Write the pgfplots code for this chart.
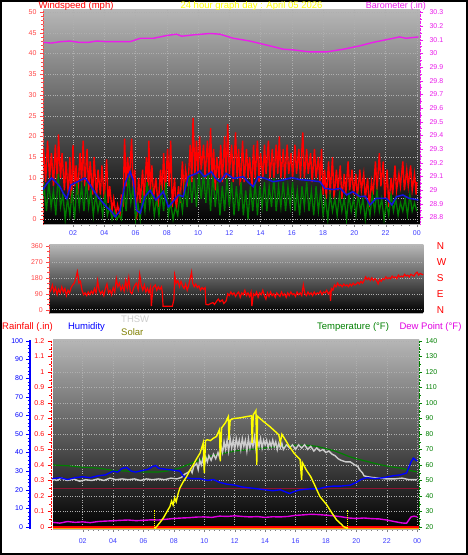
\documentclass[border=0pt]{standalone}
\usepackage{fontspec}
\setmainfont{Liberation Sans}
\usepackage{pgfplots}
\pgfplotsset{compat=1.18}
\definecolor{bgtop}{RGB}{182,182,182}
\definecolor{gridc}{RGB}{175,175,175}
\definecolor{windtick}{RGB}{255,70,70}
\definecolor{barmag}{RGB}{235,30,235}
\definecolor{xlab}{RGB}{60,60,255}
\definecolor{wblue}{RGB}{20,20,225}
\definecolor{wgreen}{RGB}{0,125,0}
\definecolor{thswc}{RGB}{205,205,205}
\definecolor{maroonl}{RGB}{140,20,50}
\definecolor{orangel}{RGB}{255,165,0}
\definecolor{olivec}{RGB}{128,128,0}
\definecolor{tgreen}{RGB}{0,128,0}
\definecolor{dewm}{RGB}{225,0,225}
\definecolor{ylw}{RGB}{255,255,0}
\pgfplotsset{
  every axis/.append style={scale only axis, anchor=south west, enlargelimits=false,
    tick label style={font=\fontsize{7}{8}\selectfont},
    /pgf/number format/assume math mode=true,
    tick align=outside, major tick length=3pt, minor tick length=1.8pt},
}
\begin{document}
\begin{tikzpicture}
\fill[white] (0pt,0pt) rectangle (468pt,555pt);
\draw[line width=2pt] (1pt,1pt) rectangle (467pt,554pt);
% ---------- Panel 1: wind speed ----------
\begin{axis}[at={(43pt,331pt)}, width=377pt, height=214pt,
  xmin=0.08, xmax=24.2, ymin=-1.1, ymax=50.5,
  axis background/.style={top color=bgtop, bottom color=black},
  axis x line*=bottom, axis y line*=left,
  x axis line style={gray!60,-}, y axis line style={windtick, densely dotted,-},
  xtick={2,4,...,24}, xticklabels={02,04,06,08,10,12,14,16,18,20,22,00},
  ytick={0,5,...,50}, minor x tick num=3, minor y tick num=4,
  grid=major, major grid style={dotted, gridc, line width=0.5pt},
  xticklabel style={text=xlab}, yticklabel style={text=windtick},
  x tick style={gray}, y tick style={windtick}]
\addplot[red, line width=1.4pt] coordinates {(0,12) (0.12,17) (0.25,9) (0.37,19) (0.5,10) (0.62,16) (0.75,8) (0.87,18) (1,9) (1.07,20.5) (1.2,10) (1.3,16) (1.45,7) (1.55,14) (1.7,6) (1.8,15) (1.9,4) (2,18) (2.1,8) (2.2,13) (2.3,6) (2.45,16) (2.55,9) (2.65,19) (2.75,8) (2.9,17) (3,7) (3.1,14) (3.25,6) (3.35,15) (3.5,5) (3.6,12) (3.75,6) (3.85,13) (4,5) (4.15,14.5) (4.25,4) (4.35,8) (4.5,2) (4.6,5) (4.75,1) (4.85,3.5) (5,1) (5.1,6) (5.2,3) (5.3,19.5) (5.4,8) (5.5,15) (5.6,9) (5.75,19.5) (5.85,6) (5.95,12) (6.07,0) (6.2,10) (6.3,4) (6.45,12) (6.55,5) (6.7,15) (6.8,8) (6.85,19) (6.95,7) (7.05,13) (7.15,5) (7.3,10) (7.45,3) (7.6,12) (7.7,7) (7.8,16) (7.9,6) (8.05,17) (8.15,8) (8.25,19) (8.35,3) (8.5,10) (8.6,2) (8.75,8) (8.85,4) (9,14) (9.1,6) (9.2,12) (9.35,8) (9.5,18) (9.6,9) (9.68,24.5) (9.8,11) (9.9,19) (10,11) (10.1,20) (10.2,12) (10.35,18) (10.45,10) (10.6,19) (10.7,11) (10.8,22) (10.9,10) (11,17) (11.1,7) (11.2,15) (11.35,10) (11.45,18) (11.55,9) (11.7,20) (11.8,10) (11.9,23) (12,11) (12.15,18) (12.25,9) (12.4,21) (12.5,10) (12.6,17) (12.7,8) (12.85,19) (12.95,9) (13.1,17) (13.2,10) (13.3,15) (13.45,8) (13.55,18) (13.65,10) (13.8,19) (13.9,9) (14,16) (14.15,10) (14.25,18) (14.35,11) (14.5,19) (14.6,10) (14.75,17) (14.85,10) (15,18) (15.1,11) (15.2,20) (15.3,10) (15.45,17) (15.55,10) (15.7,18) (15.8,11) (15.95,16) (16.05,10) (16.2,18) (16.3,11) (16.45,17) (16.55,10) (16.7,21) (16.8,10) (16.95,17) (17.05,11) (17.2,16) (17.3,9) (17.45,17) (17.55,10) (17.7,15) (17.8,9) (17.9,17) (18,6) (18.1,12) (18.2,5) (18.35,14) (18.45,6) (18.6,15) (18.7,5) (18.85,12) (18.95,7) (19.1,13) (19.2,5) (19.35,11) (19.45,6) (19.6,14) (19.7,7) (19.85,12) (19.95,6) (20.1,11) (20.2,5) (20.35,12) (20.45,7) (20.6,11) (20.7,5) (20.85,10) (20.95,3) (21.1,9) (21.2,6) (21.35,14) (21.45,7) (21.6,16) (21.7,8) (21.85,14) (21.95,5) (22.1,12) (22.2,3) (22.35,10) (22.45,6) (22.6,13) (22.7,7) (22.85,11) (22.95,8) (23.1,14) (23.2,7) (23.35,12) (23.45,8) (23.6,13) (23.7,7) (23.85,11) (23.95,6) (24,9)};
\addplot[wgreen, line width=1.3pt] coordinates {(0,4) (0.15,8) (0.3,2) (0.45,9) (0.6,3) (0.75,7) (0.9,1) (1.05,11) (1.2,3) (1.35,6) (1.5,0) (1.65,5) (1.8,1) (1.95,7) (2.1,0) (2.25,9) (2.4,3) (2.55,8) (2.7,2) (2.85,9) (3,3) (3.15,7) (3.3,1) (3.45,6) (3.6,2) (3.75,5) (3.9,1) (4.05,6) (4.2,1) (4.35,3) (4.5,0) (4.65,2) (4.8,0) (4.95,1) (5.1,0) (5.25,7) (5.4,2) (5.55,11) (5.7,4) (5.85,8) (6,0) (6.15,4) (6.3,0) (6.45,6) (6.6,2) (6.75,9) (6.9,3) (7.05,7) (7.2,1) (7.35,5) (7.5,1) (7.65,7) (7.8,2) (7.95,9) (8.1,1) (8.25,4) (8.4,0) (8.55,3) (8.7,1) (8.85,6) (9,2) (9.15,8) (9.3,3) (9.45,11) (9.6,4) (9.75,10) (9.9,3) (10.05,11) (10.2,5) (10.35,11) (10.5,4) (10.65,11) (10.8,2) (10.95,11) (11.1,3) (11.25,9) (11.4,1) (11.55,8) (11.7,2) (11.85,10) (12,3) (12.15,9) (12.3,1) (12.45,8) (12.6,2) (12.75,9) (12.9,1) (13.05,7) (13.2,0) (13.35,8) (13.5,2) (13.65,9) (13.8,1) (13.95,8) (14.1,3) (14.25,9) (14.4,2) (14.55,8) (14.7,3) (14.85,10) (15,2) (15.15,8) (15.3,3) (15.45,9) (15.6,2) (15.75,8) (15.9,3) (16.05,9) (16.2,2) (16.35,7) (16.5,1) (16.65,8) (16.8,3) (16.95,9) (17.1,2) (17.25,7) (17.4,1) (17.55,8) (17.7,2) (17.85,7) (18,1) (18.15,5) (18.3,0) (18.45,6) (18.6,2) (18.75,5) (18.9,1) (19.05,6) (19.2,2) (19.35,5) (19.5,0) (19.65,6) (19.8,2) (19.95,5) (20.1,1) (20.25,6) (20.4,2) (20.55,5) (20.7,0) (20.85,4) (21,1) (21.15,6) (21.3,2) (21.45,7) (21.6,2) (21.75,5) (21.9,0) (22.05,4) (22.2,1) (22.35,6) (22.5,2) (22.65,5) (22.8,1) (22.95,4) (23.1,2) (23.25,5) (23.4,1) (23.55,6) (23.7,2) (23.85,4) (24,2)};
\addplot[wblue, line width=1.5pt] coordinates {(0.05,7) (0.3,8.5) (0.64,10) (0.9,9) (1.15,8) (1.38,6.3) (1.6,5) (1.85,8.3) (2.24,9) (2.5,9.5) (2.77,10) (3.1,8.3) (3.5,5.9) (3.94,3.9) (4.15,3) (4.47,1.9) (4.7,0.6) (5,2) (5.33,8.7) (5.65,11.5) (5.85,9.5) (6.07,2.2) (6.3,1.5) (6.6,5.5) (6.93,7) (7.3,4.7) (7.78,6.7) (8.1,3) (8.4,4.3) (8.75,5.9) (9.05,5.5) (9.37,10.3) (9.9,11.1) (10.1,11.7) (10.4,10.3) (10.85,11.5) (11.1,10) (11.4,9.1) (11.8,11.1) (12.25,9.9) (12.9,10.3) (13.2,9) (13.53,7.9) (13.85,10.3) (14.3,9.9) (14.8,9.1) (15.45,9.5) (16,10.1) (16.5,9.6) (17.15,9.4) (17.8,9.1) (18.1,7.5) (18.65,7.2) (19.1,7.5) (19.5,5.9) (19.9,6.7) (20.35,5.5) (20.7,5.6) (21,3.5) (21.4,5.1) (22.05,5.1) (22.4,3.5) (22.7,5.5) (23.1,5.9) (23.5,5.1) (24.1,4.7)};
\end{axis}
\begin{axis}[at={(43pt,331pt)}, width=377pt, height=214pt,
  xmin=0.08, xmax=24.2, ymin=28.751, ymax=30.317,
  axis x line=none, axis y line*=right,
  y axis line style={barmag, densely dotted,-},
  ytick={28.8,28.9,29.0,29.1,29.2,29.3,29.4,29.5,29.6,29.7,29.8,29.9,30.0,30.1,30.2,30.3},
  yticklabels={28.8,28.9,29,29.1,29.2,29.3,29.4,29.5,29.6,29.7,29.8,29.9,30,30.1,30.2,30.3},
  minor y tick num=1, yticklabel style={text=barmag, xshift=3pt}, y tick style={barmag}]
\addplot[barmag, line width=1.4pt] coordinates {(0.1,30.08) (0.6,30.075) (1.2,30.085) (1.8,30.09) (2.4,30.08) (2.98,30.08) (3.5,30.09) (4.2,30.085) (5,30.085) (5.65,30.085) (6.3,30.11) (7.14,30.11) (7.99,30.13) (8.63,30.14) (8.95,30.125) (9.7,30.135) (10.76,30.145) (11.4,30.14) (12.25,30.11) (13.3,30.09) (14.4,30.06) (15.45,30.03) (16.1,30.025) (17.15,30.01) (18.2,30.01) (19.3,30.03) (20.35,30.055) (21.2,30.08) (22.05,30.1) (22.9,30.12) (23.3,30.11) (24.1,30.12)};
\end{axis}
% ---------- Panel 2: wind direction ----------
\begin{axis}[at={(49.3pt,242pt)}, width=374pt, height=68pt,
  xmin=0, xmax=24, ymin=-18.6, ymax=365.6,
  axis background/.style={top color=bgtop, bottom color=black},
  axis x line*=bottom, axis y line*=left,
  x axis line style={gray!60,-}, y axis line style={windtick, densely dotted,-},
  xtick=\empty, ytick={0,90,180,270,360}, minor y tick num=2,
  ymajorgrids, major grid style={dotted, gridc, line width=0.5pt},
  yticklabel style={text=windtick}, y tick style={windtick}]
\addplot[red, line width=1.2pt] coordinates {(0,95) (0.1,110) (0.2,140) (0.3,100) (0.4,125) (0.5,85) (0.6,115) (0.7,95) (0.8,130) (0.9,100) (1,120) (1.1,80) (1.2,110) (1.3,95) (1.4,125) (1.5,140) (1.6,150) (1.7,175) (1.8,215) (1.85,190) (1.9,150) (2,160) (2.1,110) (2.2,85) (2.3,95) (2.4,80) (2.5,100) (2.6,85) (2.7,105) (2.8,90) (2.9,120) (3,95) (3.1,165) (3.2,110) (3.3,90) (3.4,105) (3.5,80) (3.6,120) (3.7,145) (3.8,95) (3.9,110) (4,85) (4.1,125) (4.2,100) (4.3,175) (4.4,130) (4.5,150) (4.6,110) (4.7,135) (4.8,105) (4.9,165) (5,120) (5.1,180) (5.2,100) (5.3,90) (5.4,120) (5.5,140) (5.6,150) (5.7,115) (5.8,200) (5.9,140) (6,110) (6.1,140) (6.2,100) (6.3,120) (6.4,95) (6.5,130) (6.55,20) (6.65,125) (6.8,140) (6.9,110) (7,130) (7.1,115) (7.2,130) (7.25,100) (7.3,20) (7.9,20) (8,60) (8.05,195) (8.15,150) (8.25,165) (8.35,130) (8.45,160) (8.55,135) (8.65,120) (8.75,145) (8.85,110) (8.95,140) (9.05,180) (9.13,212) (9.2,150) (9.3,130) (9.4,145) (9.5,125) (9.6,135) (9.7,110) (9.8,125) (9.9,115) (10,125) (10.05,30) (10.2,28) (10.35,35) (10.5,40) (10.6,30) (10.75,50) (10.85,60) (10.95,45) (11.1,55) (11.2,35) (11.35,50) (11.45,90) (11.55,80) (11.65,100) (11.75,85) (11.85,95) (11.95,75) (12.05,90) (12.15,100) (12.25,70) (12.35,95) (12.45,85) (12.55,110) (12.65,80) (12.75,95) (12.85,75) (12.95,100) (13,20) (13.1,90) (13.2,80) (13.3,100) (13.4,70) (13.5,95) (13.6,85) (13.7,110) (13.8,80) (13.9,60) (14,95) (14.1,75) (14.2,100) (14.3,80) (14.4,90) (14.5,70) (14.6,95) (14.7,85) (14.8,75) (14.9,100) (15,80) (15.1,90) (15.2,70) (15.3,95) (15.4,80) (15.5,100) (15.6,85) (15.7,90) (15.8,75) (15.9,100) (16,85) (16.1,95) (16.2,80) (16.3,140) (16.4,90) (16.5,80) (16.6,100) (16.7,85) (16.8,95) (16.9,80) (17,100) (17.1,85) (17.2,95) (17.3,90) (17.4,105) (17.5,85) (17.6,100) (17.7,95) (17.8,110) (17.9,90) (18,100) (18.05,50) (18.1,120) (18.2,110) (18.3,140) (18.4,130) (18.5,150) (18.6,135) (18.7,140) (18.8,130) (18.9,145) (19,135) (19.1,140) (19.2,130) (19.3,145) (19.4,135) (19.5,150) (19.6,140) (19.7,145) (19.8,155) (19.9,145) (20,160) (20.1,150) (20.2,165) (20.3,185) (20.4,170) (20.5,180) (20.6,165) (20.7,180) (20.8,165) (20.9,175) (21,165) (21.1,145) (21.2,170) (21.3,160) (21.4,175) (21.5,170) (21.6,185) (21.7,175) (21.8,180) (21.9,175) (22,190) (22.1,180) (22.2,185) (22.3,175) (22.4,195) (22.5,185) (22.6,190) (22.7,185) (22.8,200) (22.9,190) (23,195) (23.1,185) (23.2,200) (23.3,195) (23.4,190) (23.5,205) (23.6,212) (23.7,195) (23.8,205) (23.9,200) (24,198)};
\end{axis}
\begin{axis}[at={(49.3pt,242pt)}, width=374pt, height=68pt,
  xmin=0, xmax=24, ymin=-18.6, ymax=365.6,
  axis x line=none, axis y line*=right, y axis line style={draw=none},
  ytick={0,90,180,270,360}, yticklabels={N,E,S,W,N}, major tick length=0pt,
  yticklabel style={text=red, font=\fontsize{10}{12}\selectfont, xshift=10pt}]
\end{axis}
% ---------- Panel 3 ----------
\begin{axis}[at={(53pt,26pt)}, width=366pt, height=189pt,
  xmin=0.05, xmax=24.12, ymin=18.7, ymax=140.6,
  axis background/.style={top color=bgtop, bottom color=black},
  axis x line*=bottom, axis y line*=right,
  x axis line style={gray!60,-}, y axis line style={tgreen, densely dotted,-},
  xtick={2,4,...,24}, xticklabels={02,04,06,08,10,12,14,16,18,20,22,00},
  ytick={20,30,...,140}, minor x tick num=5, minor y tick num=1,
  grid=major, major grid style={dotted, gridc, line width=0.5pt},
  xticklabel style={text=xlab, yshift=-3pt}, yticklabel style={text=tgreen},
  x tick style={gray}, y tick style={tgreen}]
\addplot[maroonl, line width=1.2pt] coordinates {(0.05,45) (24.12,45)};
\addplot[dewm, line width=1.4pt] coordinates {(0,23) (0.5,22.5) (1,23.5) (1.5,23) (2,23.3) (2.5,22.8) (3,23.5) (3.5,23.8) (4,24) (4.5,24.3) (5,24.5) (5.5,24.1) (6,24.3) (6.5,24.6) (7,24.5) (7.5,25) (8,25.5) (8.5,25.8) (9,26) (9.5,26.4) (10,26.5) (10.5,26.2) (11,27) (11.5,26.8) (12,27.2) (12.5,26.8) (13,26.5) (13.5,26.7) (14,26.2) (14.5,26.6) (15,26.5) (15.5,26.8) (16,27.5) (16.5,27.8) (17,28.2) (17.5,28) (18,27.6) (18.5,27.2) (19,26.6) (19.5,25.8) (20,25.5) (20.5,25.8) (21,25.4) (21.5,25.2) (22,24.5) (22.5,23.5) (23,22.6) (23.3,22.4) (23.45,24.5) (23.6,26.5) (23.8,27) (24,26.5)};
\addplot[tgreen, line width=1.2pt] coordinates {(0,60) (1,59.5) (2,58.5) (3,58) (4,56.5) (5,56) (6,55.5) (7,55.5) (7.5,56) (8,57) (8.5,58.5) (9,60.5) (9.5,62.5) (10,64.5) (10.5,66) (11,67) (11.5,68) (12,69) (13,70) (14,71) (15,72) (16,72.8) (16.5,72.8) (17,72.5) (17.5,71.8) (18,70.5) (18.5,69.3) (19,67.5) (19.5,65.5) (20,64) (20.5,62.8) (21,61.5) (21.5,60.3) (22,59.3) (22.5,58.5) (23,57.8) (23.5,56.5) (24,55.5)};
\addplot[thswc, line width=1.4pt] coordinates {(0,51) (0.3,50) (0.6,51.5) (1,50) (1.4,51) (1.8,49.5) (2.2,50.5) (2.6,50) (3,51) (3.4,50) (3.8,51.5) (4.2,50.5) (4.6,51) (5,50.5) (5.4,51) (5.8,50) (6.2,51) (6.6,50.5) (7,51) (7.4,50.5) (7.8,51.5) (8.2,51) (8.5,52) (8.7,54) (8.9,55) (9.1,57) (9.2,55) (9.3,59) (9.5,61) (9.6,57) (9.7,63) (9.8,60) (9.9,64) (10,59) (10.1,65) (10.2,62) (10.3,66) (10.45,63) (10.6,67) (10.75,64) (10.9,68) (11,65) (11.1,72) (11.2,68) (11.3,75) (11.4,70) (11.5,76) (11.6,69) (11.7,77) (11.8,71) (11.9,76) (12,70) (12.1,77) (12.2,72) (12.3,76) (12.4,70) (12.5,77) (12.6,72) (12.7,76) (12.8,69) (12.9,77) (13,71) (13.1,76) (13.2,72) (13.3,78) (13.4,70) (13.5,76) (13.6,72) (13.7,77) (13.8,71) (13.9,76) (14,73) (14.1,76) (14.2,71) (14.3,75) (14.4,72) (14.5,76) (14.6,72) (14.7,75) (14.8,70) (14.9,74) (15,71) (15.1,74) (15.2,70) (15.4,73) (15.6,71) (15.8,73) (16,70) (16.2,73) (16.4,71) (16.6,73) (16.8,70) (17,72) (17.2,69) (17.4,71) (17.6,69) (17.8,70) (18,68) (18.2,69) (18.4,67) (18.6,66) (18.8,64) (19,63) (19.3,62) (19.6,62) (19.9,60) (20.1,59) (20.2,57) (20.4,55) (20.5,53) (20.7,52.5) (21,52) (21.5,51.5) (22,51) (22.5,51) (23,51.5) (23.5,50.5) (24,50.5)};
\end{axis}
\begin{axis}[at={(29.5pt,26pt)}, width=389.5pt, height=189pt,
  xmin=-1.496, xmax=24.12, ymin=-1.083, ymax=100.5,
  axis x line=none, axis y line*=left,
  y axis line style={blue, line width=2pt,-},
  ytick={0,10,...,100}, minor y tick num=4,
  yticklabel style={text=blue}, y tick style={blue}]
\addplot[blue, line width=1.4pt] coordinates {(0,26) (0.5,26.5) (1,25.5) (1.5,26.5) (2,27) (2.5,26.5) (3,27.5) (3.5,28) (4,30) (4.3,29.5) (4.6,31.5) (4.9,32) (5.2,30) (5.5,29.5) (6,30.5) (6.3,31) (6.6,32.5) (6.8,33) (7,31.5) (7.5,31) (8,30.5) (8.4,30) (8.6,27.5) (8.8,26.5) (9.2,26) (9.7,26) (10.2,25) (10.6,25.5) (11,24) (11.5,23) (12,22.5) (12.5,21.5) (13,21) (13.5,20.5) (14,20) (14.5,19.5) (15,20) (15.3,19) (15.6,18) (15.9,19) (16.3,20) (17,20.5) (17.5,20.5) (18,21.5) (18.5,22) (19,22) (19.6,22.5) (20,24) (20.3,25.5) (20.7,26.5) (21.2,26) (21.8,26.5) (22.4,27.5) (22.9,28) (23.3,29) (23.45,32) (23.6,35) (23.75,37) (23.9,36) (24,35.5)};
\end{axis}
\begin{axis}[at={(50.7pt,26pt)}, width=368.3pt, height=189pt,
  xmin=-0.101, xmax=24.12, ymin=-0.013, ymax=1.206,
  axis x line=none, axis y line*=left,
  y axis line style={red, densely dotted,-},
  ytick={0,0.1,0.2,0.3,0.4,0.5,0.6,0.7,0.8,0.9,1.0,1.1,1.2},
  yticklabels={0,0.1,0.2,0.3,0.4,0.5,0.6,0.7,0.8,0.9,1,1.1,1.2},
  minor y tick num=1, yticklabel style={text=red}, y tick style={red}]
\addplot[red, line width=1.6pt] coordinates {(0.05,0) (24.12,0)};
\end{axis}
\begin{axis}[at={(53pt,26pt)}, width=366pt, height=189pt,
  xmin=0.05, xmax=24.12, ymin=-3.2, ymax=1200.6, hide axis]
\addplot[orangel, line width=1.5pt] coordinates {(0.05,0) (24.12,0)};
\addplot[ylw, densely dotted, line width=1pt] coordinates {(6.71,0) (6.71,118)};
\addplot[ylw, densely dotted, line width=1pt] coordinates {(19.43,0) (19.43,118)};
\addplot[ylw, line width=1.4pt] coordinates {(6.75,0) (6.87,13) (7.1,40) (7.3,66) (7.5,100) (7.74,140) (7.85,175) (7.95,150) (8.05,195) (8.15,170) (8.3,230) (8.4,259) (8.6,295) (8.84,331) (9.05,370) (9.28,406) (9.5,445) (9.72,480) (9.93,546) (10,355) (10.08,560) (10.2,565) (10.4,560) (10.6,575) (10.8,586) (11,630) (11.05,427) (11.14,641) (11.4,675) (11.58,713) (11.62,565) (11.7,690) (11.9,700) (12.35,705) (12.8,713) (13.1,718) (13.15,546) (13.22,724) (13.4,752) (13.45,406) (13.5,715) (13.9,681) (14.3,650) (14.7,615) (14.9,597) (15,546) (15.1,600) (15.2,585) (15.6,522) (15.9,480) (16.1,459) (16.3,440) (16.4,310) (16.45,420) (16.7,374) (17,330) (17.2,289) (17.6,204) (18.05,151) (18.4,98) (18.7,55) (19,28) (19.15,13) (19.43,0)};
\end{axis}
\begin{scope}[every node/.style={inner sep=0pt, font=\fontsize{9.5}{11}\selectfont}]
\node[anchor=base, text=red] at (76pt,546.5pt) {Windspeed (mph)};
\node[anchor=base, text=ylw] at (251.5pt,546.5pt) {24 hour graph day : April 05 2026};
\node[anchor=base east, text=barmag, font=\fontsize{9}{11}\selectfont] at (426pt,546.5pt) {Barometer (.in)};
\node[anchor=base, text=red] at (27.5pt,225.5pt) {Rainfall (.in)};
\node[anchor=base, text=blue] at (86.5pt,225.5pt) {Humidity};
\node[anchor=base west, text=thswc] at (121pt,232.5pt) {THSW};
\node[anchor=base west, text=olivec] at (121pt,219.5pt) {Solar};
\node[anchor=base, text=tgreen] at (353pt,225.5pt) {Temperature (°F)};
\node[anchor=base, text=dewm] at (430.5pt,225.5pt) {Dew Point (°F)};
\end{scope}
\end{tikzpicture}
\end{document}
